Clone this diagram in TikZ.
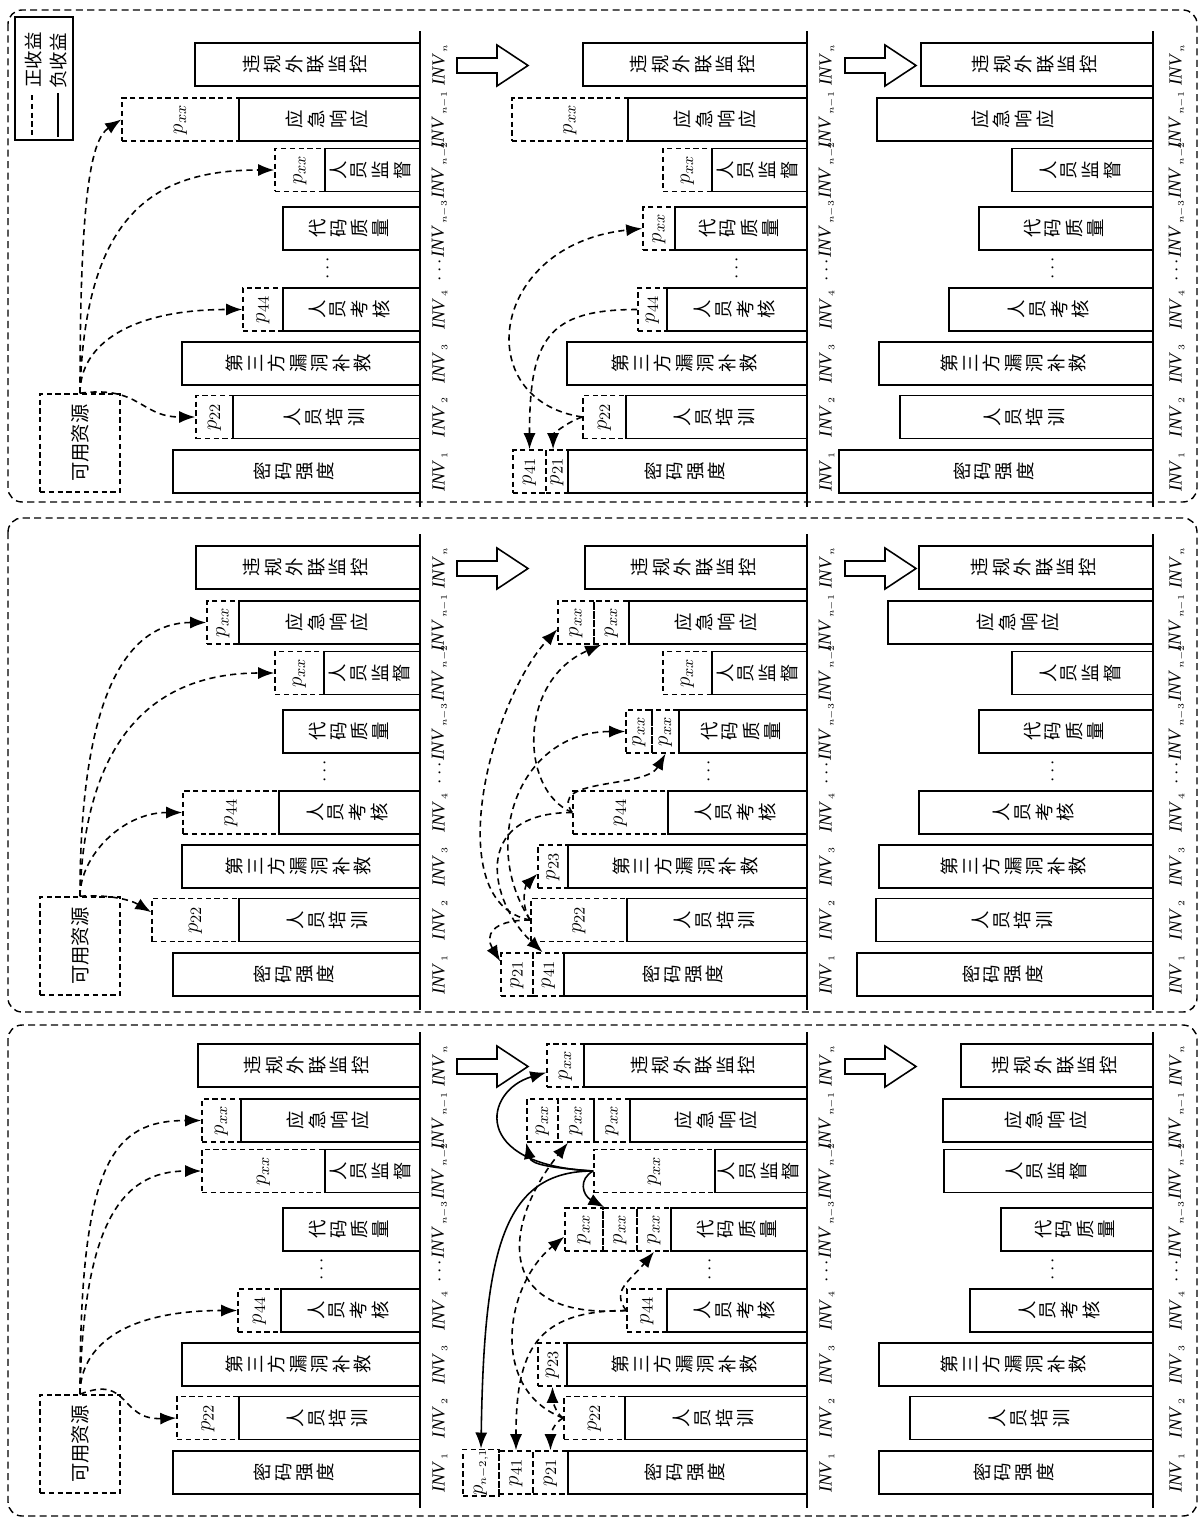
\documentclass[tikz,border=0pt]{standalone}
\usepackage{fontspec}
\setmainfont{Liberation Serif}
\newfontfamily\cjk{Noto Sans CJK SC}
\usepackage{graphicx}
\usetikzlibrary{arrows.meta}

\tikzstyle{invbox} = [rectangle, draw=black, line width=1pt, minimum height=0.86cm, inner sep=0pt, font={\cjk\fontsize{10.5}{11.6}\selectfont}]
\tikzstyle{pbox} = [rectangle, draw=black, line width=0.9pt, dash pattern=on 3pt off 2pt, minimum height=0.86cm, inner sep=0pt, font={\fontsize{13}{15}\selectfont}]
\tikzstyle{srcbox} = [rectangle, draw=black, line width=0.9pt, dash pattern=on 3pt off 2pt, minimum width=1.6cm, minimum height=1.96cm, font={\cjk\fontsize{11}{13}\selectfont}]
\tikzstyle{legendbox} = [rectangle, draw=black, line width=0.9pt, minimum width=1.16cm, minimum height=2.46cm]
\tikzstyle{legendtext} = [inner sep=0pt, font={\cjk\fontsize{10.5}{12}\selectfont}]
\tikzstyle{invlabel} = [inner sep=0pt, font={\fontsize{10.5}{12}\selectfont}]
\tikzstyle{gainarrow} = [line width=0.9pt, dash pattern=on 3.5pt off 2.5pt, -{Latex[length=3.2mm,width=2.4mm]}]
\tikzstyle{lossarrow} = [line width=0.9pt, -{Latex[length=3.2mm,width=2.4mm]}]
\tikzstyle{axisline} = [line width=1.1pt]
\tikzstyle{panelframe} = [line width=0.8pt, dash pattern=on 4pt off 2.5pt, rounded corners=8pt]

% row centres inside one panel
\newcommand\yN{64.5}
\newcommand\yNi{119.5}
\newcommand\yNii{170}
\newcommand\yNiii{228.5}
\newcommand\yIV{309.5}
\newcommand\yIII{363.5}
\newcommand\yII{417}
\newcommand\yI{471.5}

% bar texts
\newcommand\lbn{违\\规\\外\\联\\监\\控}
\newcommand\lbnone{应\\急\\响\\应}
\newcommand\lbntwo{人\\员\\监\\督}
\newcommand\lbnthree{代\\码\\质\\量}
\newcommand\lbfour{人\\员\\考\\核}
\newcommand\lbthree{第\\三\\方\\漏\\洞\\补\\救}
\newcommand\lbtwo{人\\员\\培\\训}
\newcommand\lbone{密\\码\\强\\度}

\newcommand\rowdata[1]{\ifcase#1\or
  \def\rowname{n}\def\rowy{\yN}\def\rowtext{\lbn}\or
  \def\rowname{n1}\def\rowy{\yNi}\def\rowtext{\lbnone}\or
  \def\rowname{n2}\def\rowy{\yNii}\def\rowtext{\lbntwo}\or
  \def\rowname{n3}\def\rowy{\yNiii}\def\rowtext{\lbnthree}\or
  \def\rowname{4}\def\rowy{\yIV}\def\rowtext{\lbfour}\or
  \def\rowname{3}\def\rowy{\yIII}\def\rowtext{\lbthree}\or
  \def\rowname{2}\def\rowy{\yII}\def\rowtext{\lbtwo}\or
  \def\rowname{1}\def\rowy{\yI}\def\rowtext{\lbone}\fi}

\newcommand\invbar[5]{\node[invbox, minimum width={(#3-#2)*0.02cm}] (#1) at ({(#2+#3)/2},#4) {\rotatebox{90}{\begin{tabular}{@{}c@{}}#5\end{tabular}}};}
\newcommand\pcell[5]{\node[pbox, minimum width={(#3-#2)*0.02cm}] (#1) at ({(#2+#3)/2},#4) {\rotatebox{90}{$p_{#5}$}};}
\newcommand\barcolumn[3]{\foreach \xl [count=\k] in {#3} {\rowdata{\k}\invbar{#1-\rowname}{\xl}{#2}{\rowy}{\rowtext}}}
\newcommand\flowarrow[1]{\draw[line width=0.9pt] (#1,58) -- ++(40,0) -- ++(0,-13) -- ++(31,20.5) -- ++(-31,20.5) -- ++(0,-13) -- ++(-40,0) -- cycle;}

\newcommand\panelcommon[4]{%
  \foreach \x in {420,807,1153} \draw[axisline] (\x,31) -- (\x,507);
  \foreach \col/\x in {1/440,2/827,3/1177}{
    \foreach \rw/\yc/\subs in {n/\yN/n,n1/\yNi/n{-}1,n2/\yNii/n{-}2,n3/\yNiii/n{-}3,4/\yIV/4,3/\yIII/3,2/\yII/2,1/\yI/1}
      \node[invlabel] (#1-inv\col-\rw) at (\x,\yc) {\rotatebox{90}{\textit{INV}$_{\kern1pt\scriptscriptstyle\subs}$}};
    \node[invlabel] (#1-invdots\col) at (\x,270) {\rotatebox{90}{$\cdots$}};
  }
  \node[invlabel] (#1-dots1) at (#2,268) {\rotatebox{90}{$\cdots$}};
  \node[invlabel] (#1-dots2) at (#3,268) {\rotatebox{90}{$\cdots$}};
  \node[invlabel] (#1-dots3) at (#4,268) {\rotatebox{90}{$\cdots$}};
  \flowarrow{457}
  \flowarrow{845}
}

\begin{document}
\begin{tikzpicture}[x=0.02cm, y=-0.02cm]
\useasboundingbox (0,0) rectangle (1202,1521);

% panel frames
\draw[panelframe] (8,10) rectangle (1197,502);
\draw[panelframe] (8,518) rectangle (1197,1012);
\draw[panelframe] (8,1025) rectangle (1197,1516);

% ===== first panel =====
\begin{scope}
\panelcommon{a}{328}{737}{1053}
% legend
\node[legendbox] (legend) at (44,78.5) {};
\draw[line width=0.9pt, dash pattern=on 3pt off 2pt] (32,95) -- (32,137);
\draw[line width=0.9pt] (58,93) -- (58,137);
\node[legendtext] (legend-gain) at (33,60) {\rotatebox{90}{正收益}};
\node[legendtext] (legend-loss) at (58,61) {\rotatebox{90}{负收益}};
% allocation
\node[srcbox] (a-res) at (80,443) {\rotatebox{90}{可用资源}};
\pcell{a1-pn1}{122}{239}{\yNi}{xx}
\pcell{a1-pn2}{275}{325}{\yNii}{xx}
\pcell{a1-p44}{243}{283}{\yIV}{44}
\pcell{a1-p22}{196}{233}{\yII}{22}
\barcolumn{a1}{420}{195,239,325,283,283,182,233,173}
\draw[gainarrow] (a-res.north) .. controls +(60,-8) and +(-55,0) .. (a1-p22.west);
\draw[gainarrow] (a-res.north) .. controls +(0,-50) and +(-110,0) .. (a1-p44.west);
\draw[gainarrow] (a-res.north) .. controls +(5,-180) and +(-120,0) .. (a1-pn2.west);
\draw[gainarrow] (a-res.north) .. controls +(0,-200) and +(-30,20) .. (a1-pn1.west);
% transfer
\pcell{a2-pn1}{512}{628}{\yNi}{xx}
\pcell{a2-pn2}{663}{712}{\yNii}{xx}
\pcell{a2-pn3}{643}{675}{\yNiii}{xx}
\pcell{a2-p44}{638}{667}{\yIV}{44}
\pcell{a2-p22}{583}{626}{\yII}{22}
\pcell{a2-p21}{546}{568}{\yI}{21}
\pcell{a2-p41}{513}{546}{\yI}{41}
\barcolumn{a2}{807}{583,628,712,675,667,567,626,568}
\draw[gainarrow] (a2-p22.west) .. controls +(-15,5) and +(0,-15) .. (a2-p21.100);
\draw[gainarrow] (a2-p22.west) .. controls +(-113,-17) and +(-153,16) .. (a2-pn3.west);
\draw[gainarrow] (a2-p44.west) .. controls +(-90,0) and +(0,-110) .. (a2-p41.north);
% result
\barcolumn{a3}{1153}{921,877,1012,979,949,879,900,839}
\end{scope}

% ===== second panel =====
\begin{scope}[shift={(0,503)}]
\panelcommon{b}{325}{709}{1053}
% allocation
\node[srcbox] (b-res) at (80,443) {\rotatebox{90}{可用资源}};
\pcell{b1-pn1}{207}{239}{\yNi}{xx}
\pcell{b1-pn2}{275}{324}{\yNii}{xx}
\pcell{b1-p44}{183}{279}{\yIV}{44}
\pcell{b1-p22}{152}{239}{\yII}{22}
\barcolumn{b1}{420}{196,239,324,283,279,182,239,173}
\draw[gainarrow] (b-res.north) .. controls +(30,-2) and +(-20,-12) .. (b1-p22.170);
\draw[gainarrow] (b-res.north) .. controls +(0,-40) and +(-60,0) .. (b1-p44.west);
\draw[gainarrow] (b-res.north) .. controls +(5,-170) and +(-110,0) .. (b1-pn2.west);
\draw[gainarrow] (b-res.north) .. controls +(0,-200) and +(-80,0) .. (b1-pn1.west);
% transfer
\pcell{b2-pn1b}{558}{594}{\yNi}{xx}
\pcell{b2-pn1a}{594}{629}{\yNi}{xx}
\pcell{b2-pn2}{663}{712}{\yNii}{xx}
\pcell{b2-pn3b}{626}{652}{\yNiii}{xx}
\pcell{b2-pn3a}{652}{679}{\yNiii}{xx}
\pcell{b2-p44}{573}{668}{\yIV}{44}
\pcell{b2-p23}{538}{568}{\yIII}{23}
\pcell{b2-p22}{531}{627}{\yII}{22}
\pcell{b2-p41}{533}{564}{\yI}{41}
\pcell{b2-p21}{501}{533}{\yI}{21}
\barcolumn{b2}{807}{585,629,712,679,668,568,627,564}
\draw[gainarrow] (b2-p22.west) .. controls +(-40,0) and +(-15,-25) .. (b2-p21.142);
\draw[gainarrow] (b2-p22.west) .. controls +(-10,-15) and +(-12,12) .. (b2-p23.205);
\draw[gainarrow] (b2-p22.west) .. controls +(-51,-77) and +(-106,0) .. (b2-pn3b.west);
\draw[gainarrow] (b2-p22.west) .. controls +(-91,-17) and +(-68,74) .. (b2-pn1b.200);
\draw[gainarrow] (b2-p44.west) .. controls +(-103,0) and +(-53,-50) .. (b2-p41.105);
\draw[gainarrow] (b2-p44.west) .. controls +(-25,-35) and +(-20,35) .. (b2-pn3a.south);
\draw[gainarrow] (b2-p44.west) .. controls +(-53,-22) and +(-83,36) .. (b2-pn1a.245);
% result
\barcolumn{b3}{1153}{919,888,1012,979,919,879,876,857}
\end{scope}

% ===== third panel =====
\begin{scope}[shift={(0,1001)}]
\panelcommon{c}{322}{710}{1053}
% allocation
\node[srcbox] (c-res) at (80,443) {\rotatebox{90}{可用资源}};
\pcell{c1-pn1}{202}{241}{\yNi}{xx}
\pcell{c1-pn2}{202}{325}{\yNii}{xx}
\pcell{c1-p44}{238}{281}{\yIV}{44}
\pcell{c1-p22}{177}{239}{\yII}{22}
\barcolumn{c1}{420}{198,241,325,283,281,182,239,173}
\draw[gainarrow] (c-res.north) .. controls +(50,-20) and +(-57,2) .. (c1-p22.west);
\draw[gainarrow] (c-res.north) .. controls +(0,-50) and +(-110,0) .. (c1-p44.west);
\draw[gainarrow] (c-res.north) .. controls +(3,-170) and +(-80,0) .. (c1-pn2.west);
\draw[gainarrow] (c-res.north) .. controls +(0,-230) and +(-90,0) .. (c1-pn1.west);
% transfer
\pcell{c2-pnn}{547}{584}{\yN}{xx}
\pcell{c2-pn1c}{527}{558}{\yNi}{xx}
\pcell{c2-pn1b}{558}{594}{\yNi}{xx}
\pcell{c2-pn1a}{594}{630}{\yNi}{xx}
\pcell{c2-pn2}{594}{715}{\yNii}{xx}
\pcell{c2-pn3c}{565}{603}{\yNiii}{xx}
\pcell{c2-pn3b}{603}{637}{\yNiii}{xx}
\pcell{c2-pn3a}{637}{671}{\yNiii}{xx}
\pcell{c2-p44}{627}{667}{\yIV}{44}
\pcell{c2-p23}{538}{567}{\yIII}{23}
\pcell{c2-p22}{564}{625}{\yII}{22}
\pcell{c2-pn21}{463}{499}{\yI}{\scriptscriptstyle n{-}2,1}
\pcell{c2-p41}{499}{533}{\yI}{41}
\pcell{c2-p21}{533}{568}{\yI}{21}
\barcolumn{c2}{807}{584,630,715,671,667,567,625,568}
\draw[lossarrow] (c2-pn2.west) .. controls +(-124,-6) and +(-62,18) .. (c2-pnn.200);
\draw[lossarrow] (c2-pn2.west) .. controls +(-40,-3) and +(5,22) .. (c2-pn1c.south west);
\draw[lossarrow] (c2-pn2.west) .. controls +(-15,8) and +(-22,-12) .. (c2-pn3b.125);
\draw[lossarrow] (c2-pn2.west) .. controls +(-90,0) and +(3,-200) .. (c2-pn21.north);
\draw[gainarrow] (c2-p22.west) .. controls +(-10,5) and +(0,-15) .. (c2-p21.north);
\draw[gainarrow] (c2-p22.west) .. controls +(-8,-5) and +(0,12) .. (c2-p23.south);
\draw[gainarrow] (c2-p22.west) .. controls +(-74,-28) and +(-60,49) .. (c2-pn3c.200);
\draw[gainarrow] (c2-p44.west) .. controls +(-15,-20) and +(-25,30) .. (c2-pn3a.south);
\draw[gainarrow] (c2-p44.west) .. controls +(-90,0) and +(0,-100) .. (c2-p41.north);
\draw[gainarrow] (c2-p44.west) .. controls +(-137,10) and +(-63,78) .. (c2-pn1b.250);
% result
\barcolumn{c3}{1153}{961,943,944,1001,970,879,910,879}
\end{scope}
\end{tikzpicture}
\end{document}
